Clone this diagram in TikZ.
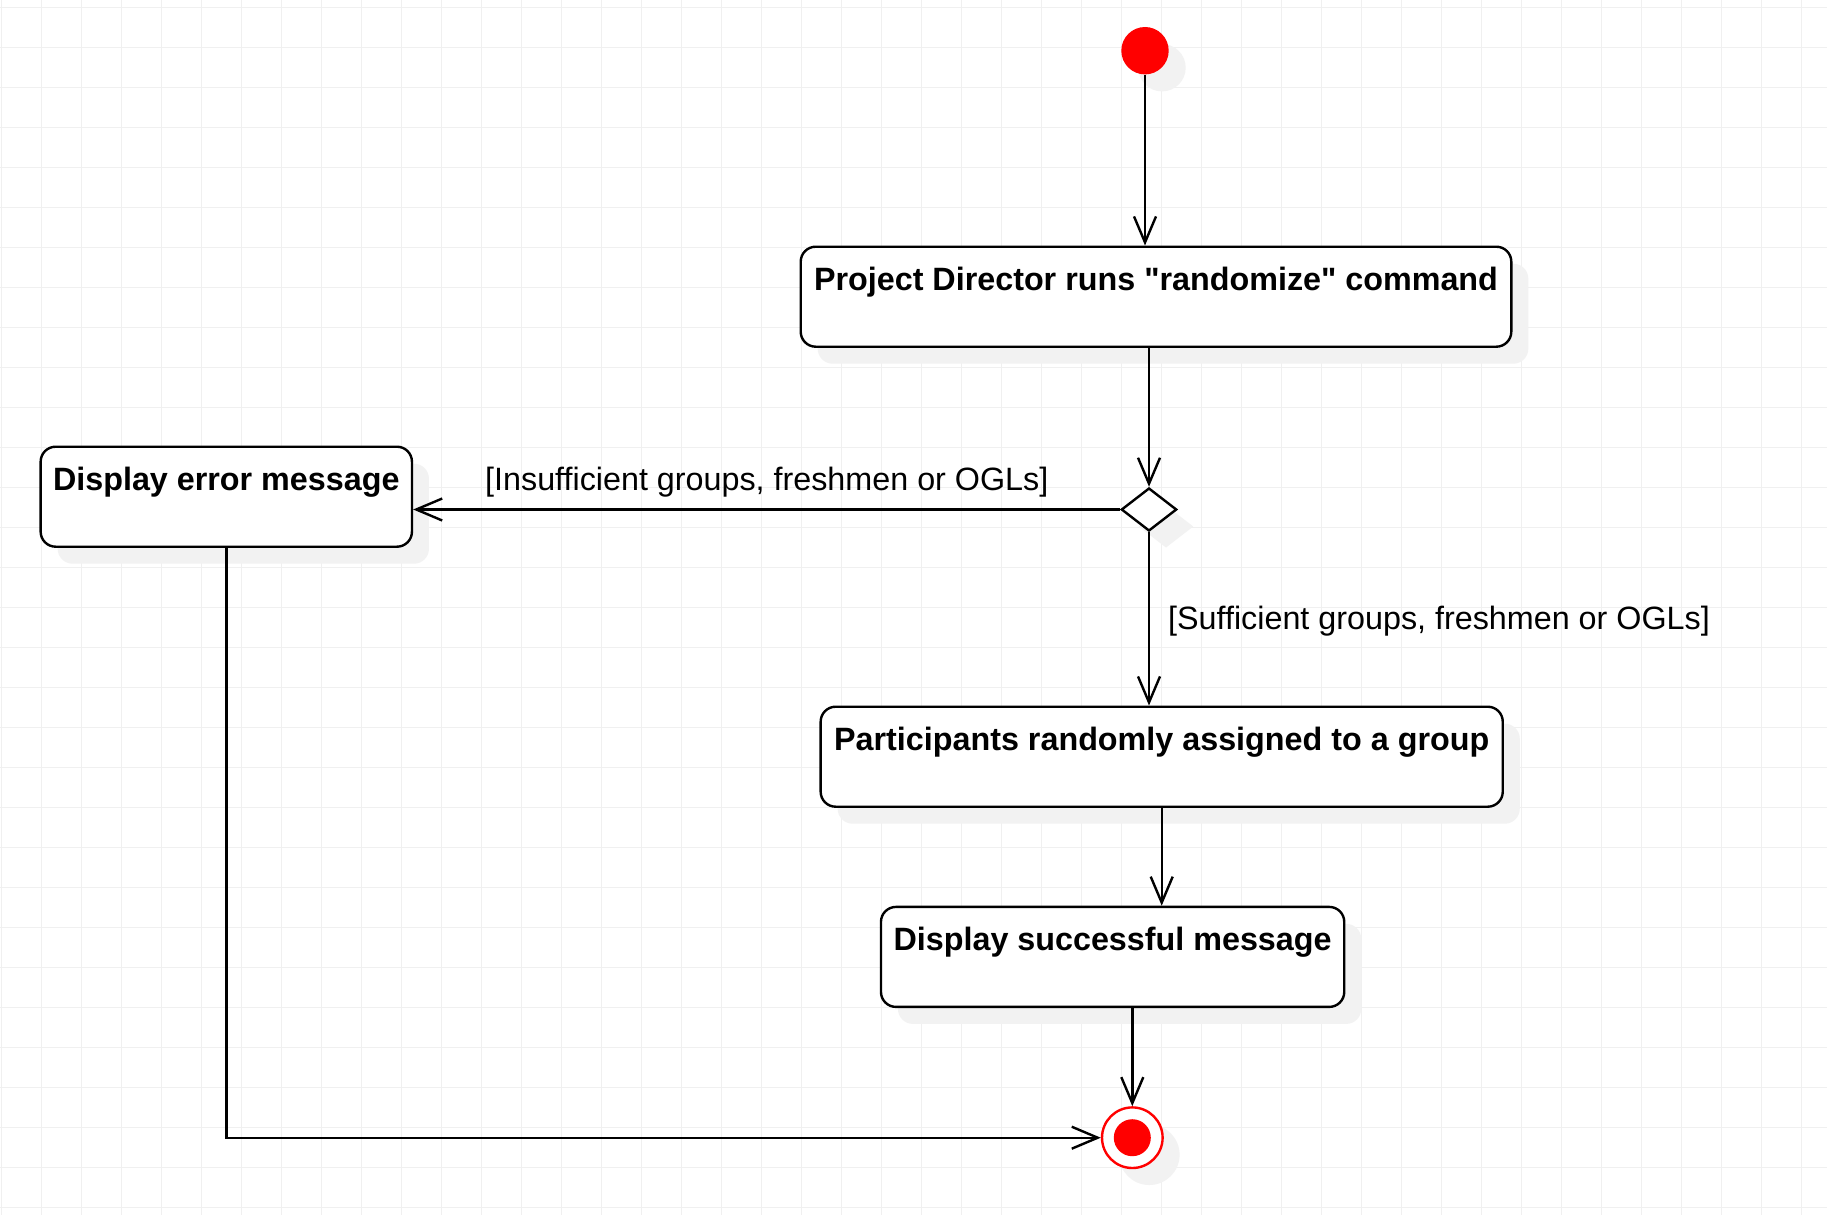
\documentclass[tikz,border=0pt]{standalone}
\usepackage{fontspec}
\setmainfont{Liberation Sans}[Ligatures=TeXOff]
\usetikzlibrary{arrows.meta,shapes.geometric,shadows}
\tikzset{
	gridline/.style={line width=1pt, color=black!6},
	shade17/.style={drop shadow={shadow xshift=17pt, shadow yshift=-17pt, fill=black!5, opacity=1}},
	activity/.style={draw, line width=2.4pt, rounded corners=15pt, fill=white, shade17, minimum height=100pt, inner sep=0pt, text height=22pt, text depth=35.4pt, font=\fontsize{32.3}{38}\selectfont\bfseries},
	guard/.style={inner sep=0pt, anchor=base west, font=\fontsize{32.3}{38}\selectfont},
	flow/.style={line width=2.4pt, -{Straight Barb[length=26pt, width=22pt]}},
}

\begin{document}
\begin{tikzpicture}[x=1pt, y=-1pt]
			%%%%% START %%%%%
			
			\useasboundingbox[fill=white] (0, 0) rectangle (1827, 1215);
			\foreach \gx in {1.7, 41.7, ..., 1827}
				\draw[gridline] (\gx, 0) -- (\gx, 1215);
			\foreach \gy in {7.3, 47.3, ..., 1215}
				\draw[gridline] (0, \gy) -- (1827, \gy);
			
			\node[circle, fill=red, inner sep=0pt, minimum size=47.4pt, shade17] (start) at (1145, 50.7) {};
			
			\node[activity, minimum width=710.6pt] (runcmd) at (1156, 296.7) {Project Director runs "randomize" command};
			
			\node[diamond, draw, line width=2.4pt, fill=white, inner sep=0pt, minimum width=55.4pt, minimum height=43pt, shade17] (decide) at (1149, 509.5) {};
			
			\node[activity, minimum width=371.3pt] (errmsg) at (226.3, 496.7) {Display error message};
			\node[activity, minimum width=682.1pt] (assign) at (1161.7, 756.7) {Participants randomly assigned to a group};
			\node[activity, minimum width=463.3pt] (okmsg) at (1112.6, 956.9) {Display successful message};
			
			\node[circle, draw=red, line width=2.4pt, fill=white, inner sep=0pt, minimum size=60.6pt, shade17] (finish) at (1132.3, 1137.7) {};
			\node[circle, fill=red, inner sep=0pt, minimum size=37pt] (finishdot) at (finish.center) {};
			
			\node[guard] (nogo) at (485, 490) {[Insufficient groups, freshmen or OGLs]};
			\node[guard] (go) at (1168, 629) {[Sufficient groups, freshmen or OGLs]};
			
			\draw[flow] (start) -- (start |- runcmd.north);
			\draw[flow] (runcmd.south -| decide.north) -- (decide.north);
			\draw[flow] (decide.west) -- (decide.west -| errmsg.east);
			\draw[flow] (decide.south) -- (decide.south |- assign.north);
			\draw[flow] (assign.south) -- (assign.south |- okmsg.north);
			\draw[flow] (okmsg.south -| finish.north) -- (finish.north);
			\draw[flow] (errmsg.south) |- (finish.west);
			
			%%%%% END %%%%%
\end{tikzpicture}
\end{document}
